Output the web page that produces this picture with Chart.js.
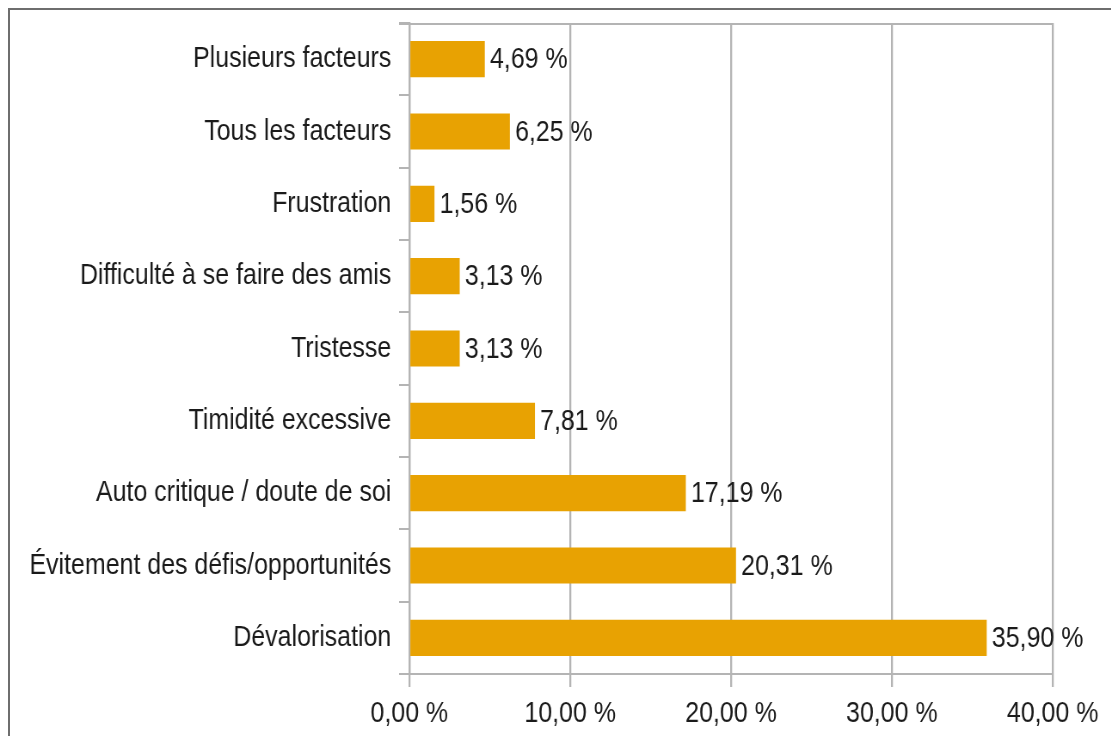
<!DOCTYPE html>
<html>
<head>
<meta charset="utf-8">
<script src="https://cdn.jsdelivr.net/npm/chart.js@4/dist/chart.umd.min.js"></script>
<style>
  html, body { margin: 0; padding: 0; background: #fff; }
  #wrap { position: relative; width: 1111px; height: 736px; overflow: hidden; }
  #frame {
    position: absolute; left: 8px; top: 8px; width: 1200px; height: 800px;
    border-left: 2px solid #6e6e6e; border-top: 2px solid #6e6e6e;
  }
  /* the original text is condensed: squeeze the whole canvas horizontally */
  canvas { position: absolute; left: 0; top: 0; transform: scaleX(0.86); transform-origin: 0 0; }
</style>
</head>
<body>
<div id="wrap">
  <div id="frame"></div>
  <canvas id="chart" width="1292" height="736"></canvas>
</div>
<script>
// Chart data
const categories = [
    'Plusieurs facteurs',
    'Tous les facteurs',
    'Frustration',
    'Difficulté à se faire des amis',
    'Tristesse',
    'Timidité excessive',
    'Auto critique / doute de soi',
    'Évitement des défis/opportunités',
    'Dévalorisation'
];
const percentages = [4.69, 6.25, 1.56, 3.13, 3.13, 7.81, 17.19, 20.31, 35.90];
const xTicks = [0, 10, 20, 30, 40];

const FONT = '"Liberation Sans", Arial, sans-serif';
const GRID = '#b4b4b4';
const TEXT = '#1a1a1a';

function formatPct(v) {
    return v.toFixed(2).replace('.', ',') + ' %';
}

// Top border of the plot area
const topBorder = {
    id: 'topBorder',
    beforeDatasetsDraw(chart) {
        const area = chart.chartArea;
        const c = chart.ctx;
        c.save();
        c.strokeStyle = GRID;
        c.lineWidth = 2;
        c.beginPath();
        c.moveTo(area.left - 12, area.top + 1);
        c.lineTo(area.right + 1, area.top + 1);
        c.stroke();
        c.restore();
    }
};

// Draw value labels to the right of each bar
const valueLabels = {
    id: 'valueLabels',
    afterDatasetsDraw(chart) {
        const c = chart.ctx;
        const meta = chart.getDatasetMeta(0);
        c.save();
        c.font = '29px ' + FONT;
        c.fillStyle = TEXT;
        c.textAlign = 'left';
        c.textBaseline = 'middle';
        meta.data.forEach((bar, i) => {
            c.fillText(formatPct(percentages[i]), bar.x + 6, bar.y + 1);
        });
        c.restore();
    }
};

new Chart(document.getElementById('chart'), {
    type: 'bar',
    data: {
        labels: categories,
        datasets: [{
            data: percentages,
            backgroundColor: '#e8a202',
            borderWidth: 0,
            barPercentage: 0.5,
            categoryPercentage: 1
        }]
    },
    options: {
        indexAxis: 'y',
        responsive: false,
        animation: false,
        layout: { padding: { top: 23, right: 68, left: 0, bottom: 0 } },
        plugins: {
            legend: { display: false },
            tooltip: { enabled: false }
        },
        scales: {
            x: {
                min: 0,
                max: 40,
                afterBuildTicks(scale) {
                    scale.ticks = xTicks.map(v => ({ value: v }));
                },
                afterFit(scale) { scale.height = 62; },
                grid: {
                    color: GRID,
                    lineWidth: 2.3,
                    tickLength: 13,
                    tickColor: GRID
                },
                border: { display: true, color: GRID, width: 2 },
                ticks: {
                    color: TEXT,
                    font: { family: FONT, size: 29 },
                    padding: 10,
                    maxRotation: 0,
                    callback: v => formatPct(v)
                }
            },
            y: {
                afterFit(scale) {
                    scale.width = 476;
                    scale.paddingTop = 0;
                    scale.paddingBottom = 0;
                },
                grid: {
                    offset: true,
                    lineWidth: 2,
                    tickLength: 12,
                    tickColor: GRID,
                    drawOnChartArea: false
                },
                border: { display: true, color: GRID, width: 2.3 },
                ticks: {
                    color: TEXT,
                    font: { family: FONT, size: 29 },
                    padding: 9
                }
            }
        }
    },
    plugins: [topBorder, valueLabels]
});
</script>
</body>
</html>
